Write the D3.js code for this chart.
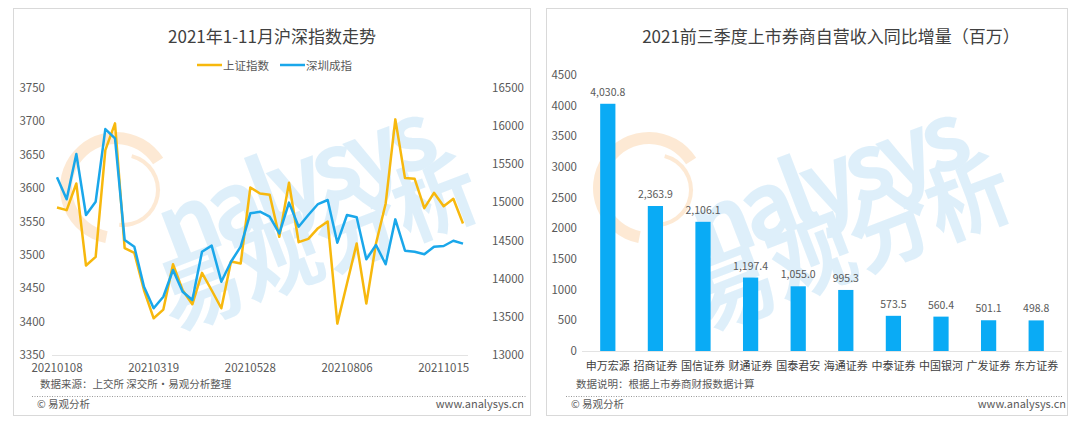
<!DOCTYPE html>
<html>
<head>
<meta charset="utf-8">
<script src="https://cdn.jsdelivr.net/npm/d3@7"></script>
<style>
  body { margin: 0; background: #fff; }
  text { font-family: "Noto Sans CJK SC", "Noto Sans", sans-serif; }
</style>
</head>
<body>
<div class="chart"></div>
<script>
// weekly dates, Shanghai composite (left axis), Shenzhen component (right axis)
var weeks = ["20210108","20210115","20210122","20210129","20210205","20210210","20210219","20210226","20210305","20210312",
  "20210319","20210326","20210402","20210409","20210416","20210423","20210430","20210507","20210514","20210521",
  "20210528","20210604","20210611","20210618","20210625","20210702","20210709","20210716","20210723","20210730",
  "20210806","20210813","20210820","20210827","20210903","20210910","20210917","20210924","20210930","20211008",
  "20211015","20211022","20211029"];
var shIndex = [3571, 3567, 3607, 3484, 3497, 3657, 3697, 3510, 3503, 3447,
  3405, 3418, 3486, 3447, 3426, 3473, 3447, 3420, 3490, 3487,
  3601, 3592, 3590, 3527, 3608, 3519, 3524, 3540, 3550, 3397,
  3457, 3517, 3427, 3517, 3577, 3703, 3615, 3614, 3570, 3593,
  3573, 3584, 3547];
var szIndex = [15329, 15041, 15635, 14835, 15010, 15962, 15840, 14507, 14420, 13895,
  13612, 13764, 14114, 13830, 13721, 14354, 14433, 13961, 14223, 14420,
  14857, 14878, 14813, 14595, 14997, 14682, 14835, 14979, 15032, 14472,
  14835, 14805, 14255, 14442, 14189, 14778, 14367, 14354, 14320, 14420,
  14429, 14498, 14460];
var xTickLabels = ["20210108", "20210319", "20210528", "20210806", "20211015"];
var leftTicks = [3350, 3400, 3450, 3500, 3550, 3600, 3650, 3700, 3750];
var rightTicks = [13000, 13500, 14000, 14500, 15000, 15500, 16000, 16500];

// brokers, year-on-year increase of proprietary trading income (million)
var brokers = ["申万宏源", "招商证券", "国信证券", "财通证券", "国泰君安", "海通证券", "中泰证券", "中国银河", "广发证券", "东方证券"];
var increase = [4030.8, 2363.9, 2106.1, 1197.4, 1055.0, 995.3, 573.5, 560.4, 501.1, 498.8];
var barTicks = [0, 500, 1000, 1500, 2000, 2500, 3000, 3500, 4000, 4500];

var svgWidth = 1080;
var svgHeight = 431;
var textColor = "#595959";
var yellow = "#f7b80d";
var blue = "#1aa7ea";

var svg = d3.select(".chart")
  .append("svg")
  .attr("width", svgWidth)
  .attr("height", svgHeight);

// panel frames + watermark
var panels = [{x: 13, w: 517}, {x: 546, w: 521}];
var defs = svg.append("defs");

panels.forEach(function(p, i) {
  defs.append("clipPath").attr("id", "clip" + i)
    .append("rect").attr("x", p.x).attr("y", 8).attr("width", p.w).attr("height", 407);

  svg.append("rect")
    .attr("x", p.x + 0.5).attr("y", 8.5)
    .attr("width", p.w).attr("height", 407)
    .attr("fill", "#fff")
    .attr("stroke", "#d9d9d9");

  var wm = svg.append("g")
    .attr("clip-path", "url(#clip" + i + ")")
    .append("g")
    .attr("transform", `translate(${p.x}, 0)`)
    .attr("opacity", 0.6);

  wm.append("path")
    .attr("d", d3.arc()({innerRadius: 44, outerRadius: 56, startAngle: -2.6, endAngle: 1.35}))
    .attr("transform", "translate(103, 188) rotate(-20)")
    .attr("fill", "#fcdcb8");

  wm.append("path")
    .attr("d", d3.arc()({innerRadius: 33, outerRadius: 37, startAngle: 0.6, endAngle: 3.6}))
    .attr("transform", "translate(110, 190) rotate(-20)")
    .attr("fill", "#fcdcb8");

  wm.append("text")
    .attr("transform", "translate(160, 264) rotate(-21)")
    .attr("font-size", 92)
    .attr("font-weight", "bold")
    .attr("fill", "#c9e6f8")
    .attr("textLength", 290)
    .text("nalysys");

  wm.append("text")
    .attr("transform", "translate(160, 332) rotate(-21)")
    .attr("font-size", 84)
    .attr("font-weight", "bold")
    .attr("fill", "#c9e6f8")
    .attr("textLength", 335)
    .text("易观分析");
});

// ---------- left: line chart ----------
var xScale = d3.scalePoint()
  .domain(weeks)
  .range([57, 463]);

var yLeft = d3.scaleLinear().domain([3350, 3750]).range([355, 88]);
var yRight = d3.scaleLinear().domain([13000, 16500]).range([355, 88]);

var lineGroup = svg.append("g");

lineGroup.append("text")
  .attr("x", 272).attr("y", 43)
  .attr("text-anchor", "middle")
  .attr("font-size", 17)
  .attr("fill", "#404040")
  .text("2021年1-11月沪深指数走势");

// legend
var legend = [{name: "上证指数", color: yellow, x: 197}, {name: "深圳成指", color: blue, x: 280}];
legend.forEach(function(l) {
  lineGroup.append("line")
    .attr("x1", l.x).attr("x2", l.x + 25)
    .attr("y1", 65).attr("y2", 65)
    .attr("stroke", l.color).attr("stroke-width", 2.5);
  lineGroup.append("text")
    .attr("x", l.x + 26).attr("y", 69.5)
    .attr("font-size", 11.5)
    .attr("fill", textColor)
    .text(l.name);
});

lineGroup.append("line")
  .attr("x1", 52).attr("x2", 468)
  .attr("y1", 355.5).attr("y2", 355.5)
  .attr("stroke", "#e3e3e3");

lineGroup.append("g")
  .selectAll("text")
  .data(leftTicks)
  .enter()
  .append("text")
  .attr("x", 45)
  .attr("y", d => yLeft(d) + 4)
  .attr("text-anchor", "end")
  .attr("font-size", 11.5)
  .attr("fill", textColor)
  .text(d => d);

lineGroup.append("g")
  .selectAll("text")
  .data(rightTicks)
  .enter()
  .append("text")
  .attr("x", 492)
  .attr("y", d => yRight(d) + 4)
  .attr("font-size", 11.5)
  .attr("fill", textColor)
  .text(d => d);

lineGroup.append("g")
  .selectAll("text")
  .data(xTickLabels)
  .enter()
  .append("text")
  .attr("x", d => xScale(d))
  .attr("y", 372)
  .attr("text-anchor", "middle")
  .attr("font-size", 11.5)
  .attr("fill", textColor)
  .text(d => d);

var shLine = d3.line()
  .x((d, i) => xScale(weeks[i]))
  .y(d => yLeft(d));

var szLine = d3.line()
  .x((d, i) => xScale(weeks[i]))
  .y(d => yRight(d));

lineGroup.append("path")
  .datum(shIndex)
  .attr("d", shLine)
  .attr("fill", "none")
  .attr("stroke", yellow)
  .attr("stroke-width", 2.5)
  .attr("stroke-linejoin", "round");

lineGroup.append("path")
  .datum(szIndex)
  .attr("d", szLine)
  .attr("fill", "none")
  .attr("stroke", blue)
  .attr("stroke-width", 2.5)
  .attr("stroke-linejoin", "round");

// ---------- right: bar chart ----------
var xBand = d3.scaleBand()
  .domain(brokers)
  .range([584, 1060])
  .paddingInner(0.68)
  .paddingOuter(0.34);

var yBar = d3.scaleLinear().domain([0, 4500]).range([351, 75]);

var barGroup = svg.append("g");

barGroup.append("text")
  .attr("x", 831).attr("y", 43)
  .attr("text-anchor", "middle")
  .attr("font-size", 17)
  .attr("fill", "#404040")
  .text("2021前三季度上市券商自营收入同比增量（百万）");

barGroup.append("g")
  .selectAll("text")
  .data(barTicks)
  .enter()
  .append("text")
  .attr("x", 577)
  .attr("y", d => yBar(d) + 4)
  .attr("text-anchor", "end")
  .attr("font-size", 11.5)
  .attr("fill", textColor)
  .text(d => d);

barGroup.append("line")
  .attr("x1", 582).attr("x2", 1062)
  .attr("y1", 351.5).attr("y2", 351.5)
  .attr("stroke", "#e3e3e3");

barGroup.selectAll("rect")
  .data(increase)
  .enter()
  .append("rect")
  .attr("x", (d, i) => xBand(brokers[i]))
  .attr("y", d => yBar(d))
  .attr("width", xBand.bandwidth())
  .attr("height", d => yBar(0) - yBar(d))
  .attr("fill", "#0aabf5");

barGroup.append("g")
  .selectAll("text")
  .data(increase)
  .enter()
  .append("text")
  .attr("x", (d, i) => xBand(brokers[i]) + xBand.bandwidth() / 2)
  .attr("y", d => yBar(d) - 8)
  .attr("text-anchor", "middle")
  .attr("font-size", 10.5)
  .attr("fill", textColor)
  .text(d => d3.format(",.1f")(d));

barGroup.append("g")
  .selectAll("text")
  .data(brokers)
  .enter()
  .append("text")
  .attr("x", d => xBand(d) + xBand.bandwidth() / 2)
  .attr("y", 370)
  .attr("text-anchor", "middle")
  .attr("font-size", 11)
  .attr("fill", "#404040")
  .text(d => d);

// ---------- footers ----------
var notes = [
  {src: "数据来源：上交所 深交所·易观分析整理", sx: 40, cx: 37, ux: 524, lx1: 32, lx2: 526},
  {src: "数据说明：根据上市券商财报数据计算", sx: 576, cx: 571, ux: 1066, lx1: 566, lx2: 1062}
];
notes.forEach(function(n) {
  svg.append("text")
    .attr("x", n.sx).attr("y", 388)
    .attr("font-size", 10.5)
    .attr("fill", textColor)
    .text(n.src);
  svg.append("line")
    .attr("x1", n.lx1).attr("x2", n.lx2)
    .attr("y1", 396.5).attr("y2", 396.5)
    .attr("stroke", "#9a9a9a")
    .attr("stroke-dasharray", "1,1.5");
  svg.append("text")
    .attr("x", n.cx).attr("y", 408)
    .attr("font-size", 10.5)
    .attr("fill", textColor)
    .text("© 易观分析");
  svg.append("text")
    .attr("x", n.ux).attr("y", 408)
    .attr("text-anchor", "end")
    .attr("font-size", 11)
    .attr("fill", textColor)
    .text("www.analysys.cn");
});
</script>
</body>
</html>
